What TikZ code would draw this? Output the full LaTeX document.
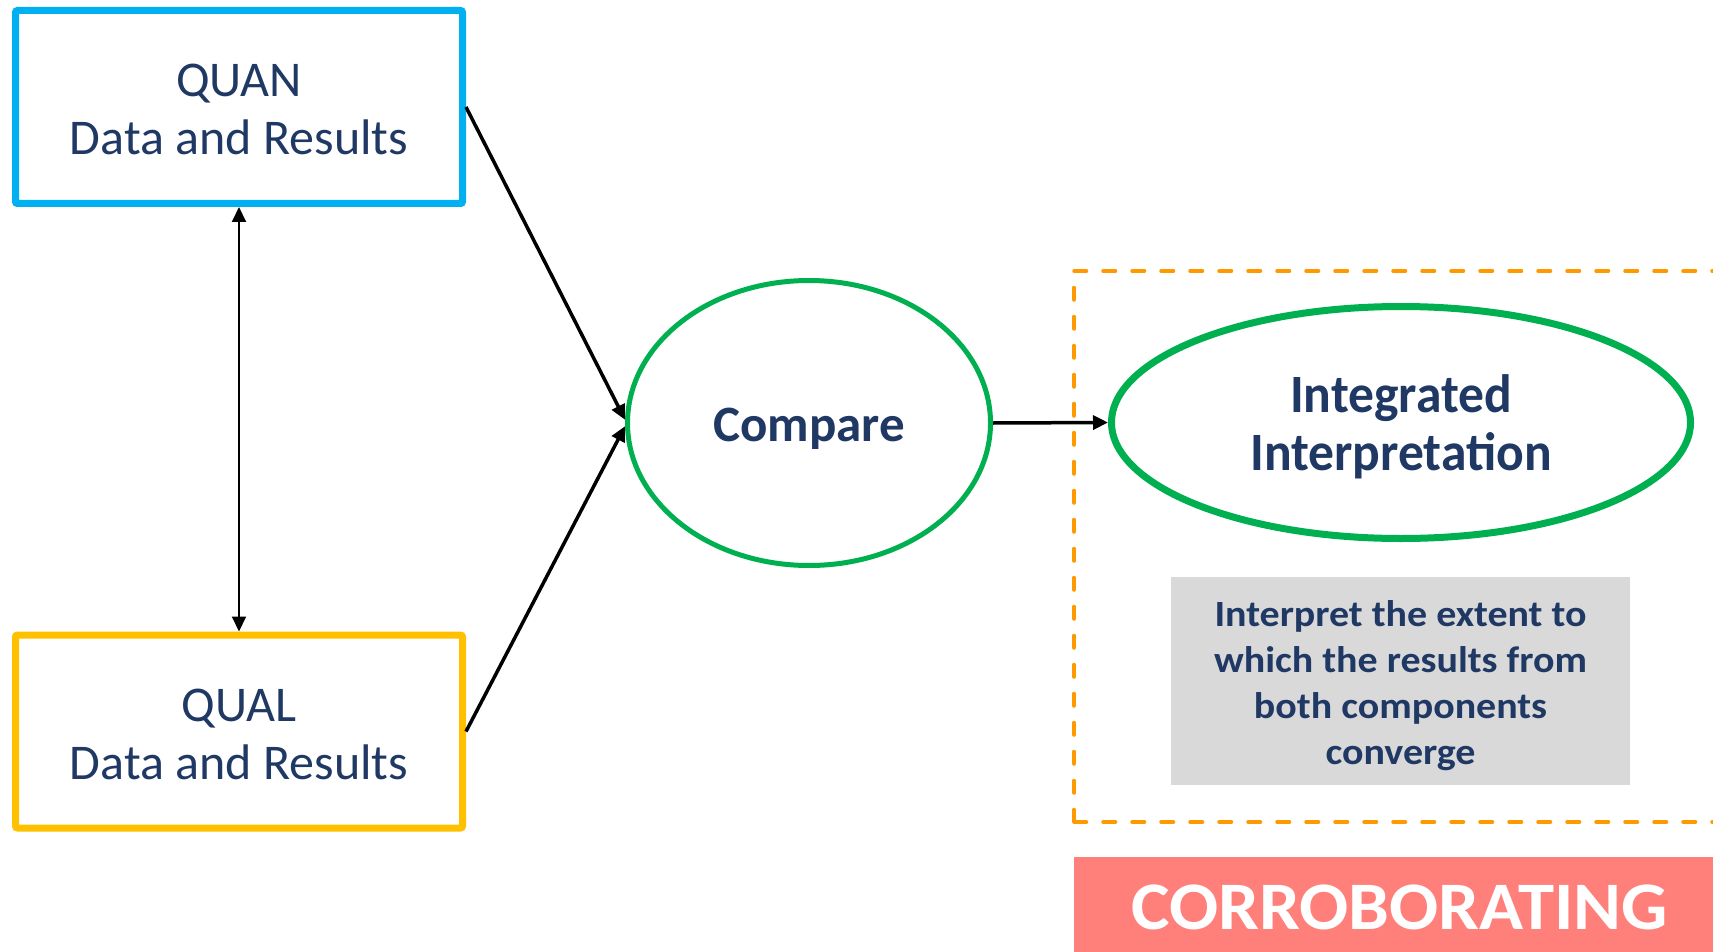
\documentclass[tikz,border=0pt]{standalone}
\usepackage{fontspec}
\setmainfont{Carlito}
\newfontfamily\integfont[FakeStretch=0.955]{Carlito}
\newfontfamily\notefont[FakeStretch=1.08]{Carlito}
\newfontfamily\bannerfont[FakeStretch=1.07]{Carlito}
\usetikzlibrary{arrows.meta,shapes.geometric}

\definecolor{navy}{RGB}{31,56,100}
\definecolor{quanblue}{RGB}{0,176,240}
\definecolor{qualyellow}{RGB}{255,192,0}
\definecolor{ovalgreen}{RGB}{0,176,80}
\definecolor{frameorange}{RGB}{255,153,0}
\definecolor{notegray}{RGB}{217,217,217}
\definecolor{bannersalmon}{RGB}{255,127,123}

% lower a line of text without changing its box metrics
\newcommand\sinkby[2]{\raisebox{-#1}[\height][\depth]{#2}}

\tikzset{
  databox/.style={draw, rounded corners=2pt, line width=7pt,
    minimum width=447pt, minimum height=193pt, inner sep=0pt,
    align=center, text=navy, font=\fontsize{50}{58}\selectfont},
  ovalnode/.style={ellipse, draw=ovalgreen, inner sep=0pt,
    align=center, text=navy},
  link/.style={line width=3.5pt, -{Triangle[length=15pt,width=14pt]}},
}

\begin{document}
\begin{tikzpicture}[x=1pt,y=-1pt]
\useasboundingbox (0,0) rectangle (1713,952);
\clip (0,0) rectangle (1713,952);

% data sources
\node[databox, draw=quanblue] (quan) at (239,107)
  {\sinkby{2.5pt}{QUAN}\\\sinkby{2.5pt}{Data and Results}};
\node[databox, draw=qualyellow] (qual) at (239,731.5)
  {\sinkby{2.5pt}{QUAL}\\\sinkby{2.5pt}{Data and Results}};

% comparison and interpretation
\node[ovalnode, line width=5pt, minimum width=363pt, minimum height=285pt,
  font=\fontsize{51}{60}\selectfont\bfseries] (cmp) at (809,423)
  {\sinkby{6pt}{Compare}};
\node[ovalnode, line width=7pt, minimum width=579pt, minimum height=232pt,
  font=\integfont\fontsize{54}{58}\selectfont\bfseries] (integ) at (1401,422.5)
  {\sinkby{4.5pt}{Integrated}\\\sinkby{4.5pt}{Interpretation}};

% explanatory note
\node[fill=notegray, minimum width=459pt, minimum height=208pt, inner sep=0pt,
  align=center, text=navy, font=\notefont\fontsize{37}{46}\selectfont\bfseries]
  (note) at (1400.5,681)
  {\sinkby{5pt}{Interpret the extent to}\\\sinkby{5pt}{which the results from}\\
   \sinkby{5pt}{both components}\\\sinkby{5pt}{converge}};

% dashed frame around the interpretation
\draw[frameorange, line width=3.5pt, line cap=round, dash pattern=on 12.5pt off 16.5pt]
  (1074,822) -- (1074,271) -- (1740,271) (1074,822) -- (1740,822);

% banner
\fill[bannersalmon] (1074,857) rectangle (1740,960);
\node[text=white, anchor=base, inner sep=0pt,
  font=\bannerfont\fontsize{68}{68}\selectfont\bfseries] (corr) at (1399.5,929)
  {CORROBORATING};

% connectors
\draw[line width=2pt, {Triangle[length=15pt,width=14pt]}-{Triangle[length=15pt,width=14pt]}]
  (quan.south) -- (qual.north);
\draw[link] (quan.east) -- (cmp.179);
\draw[link] (qual.east) -- (cmp.181);
\draw[link] (cmp.east) -- (integ.west);
\end{tikzpicture}
\end{document}
